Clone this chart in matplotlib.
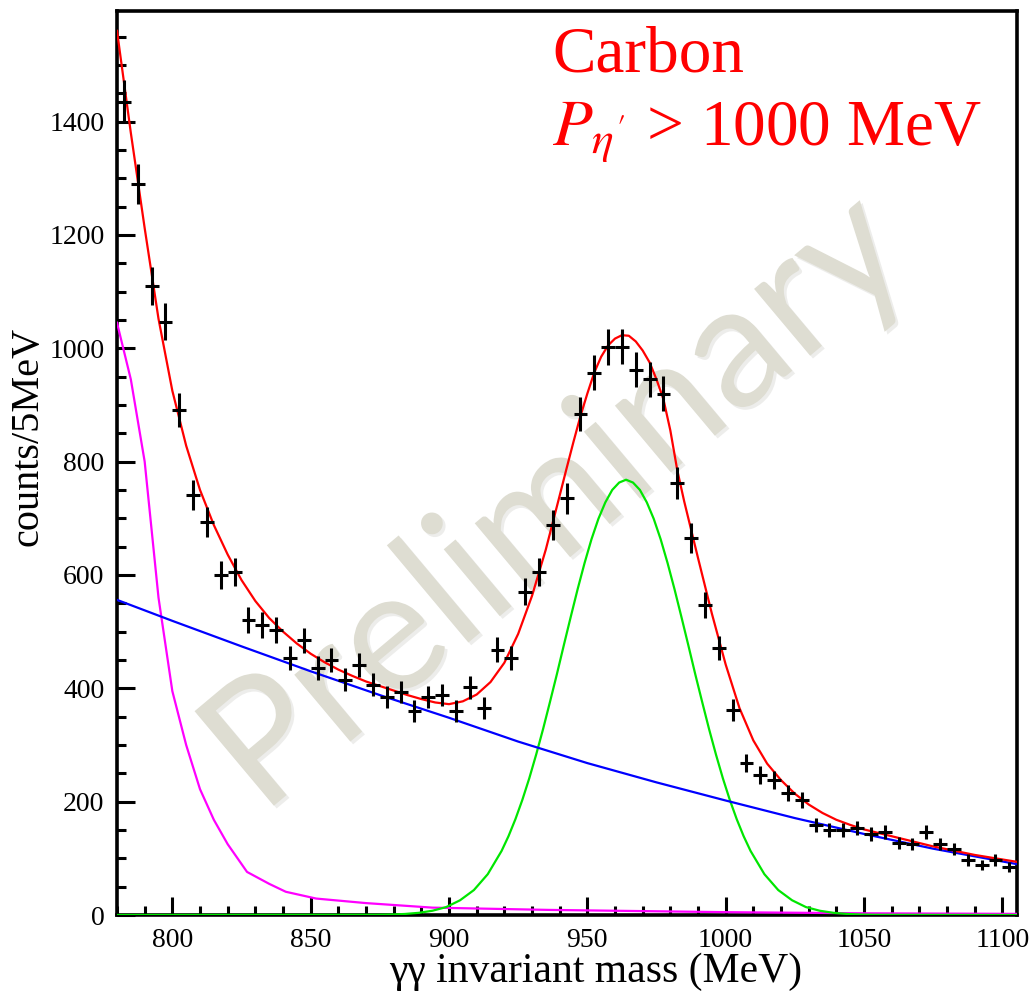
import numpy as np
import matplotlib
matplotlib.use("Agg")
import matplotlib.pyplot as plt
from matplotlib.ticker import MultipleLocator
import matplotlib.patheffects as pe

plt.rcParams['font.family'] = ['Liberation Serif', 'DejaVu Serif']
plt.rcParams['mathtext.fontset'] = 'stix'

# gamma-gamma invariant mass, 5 MeV bins (bin centres)
mass = [782.5, 787.5, 792.5, 797.5, 802.5, 807.5, 812.5, 817.5, 822.5, 827.5,
        832.5, 837.5, 842.5, 847.5, 852.5, 857.5, 862.5, 867.5, 872.5, 877.5,
        882.5, 887.5, 892.5, 897.5, 902.5, 907.5, 912.5, 917.5, 922.5, 927.5,
        932.5, 937.5, 942.5, 947.5, 952.5, 957.5, 962.5, 967.5, 972.5, 977.5,
        982.5, 987.5, 992.5, 997.5, 1002.5, 1007.5, 1012.5, 1017.5, 1022.5, 1027.5,
        1032.5, 1037.5, 1042.5, 1047.5, 1052.5, 1057.5, 1062.5, 1067.5, 1072.5, 1077.5,
        1082.5, 1087.5, 1092.5, 1097.5, 1102.5]
counts = [1435, 1290, 1110, 1047, 891, 741, 694, 600, 605, 520,
          512, 503, 453, 485, 436, 450, 415, 441, 406, 385,
          393, 360, 385, 388, 360, 402, 365, 468, 454, 570,
          605, 688, 735, 884, 957, 1002, 1003, 962, 945, 920,
          762, 665, 547, 471, 362, 268, 247, 238, 215, 203,
          159, 150, 150, 153, 143, 146, 127, 125, 147, 125,
          116, 97, 88, 97, 85]

# total fit (red)
fit_x = [780, 785, 790, 795, 800, 805, 810, 815, 820, 825, 830, 835, 840, 845,
         850, 855, 860, 865, 870, 875, 880, 885, 890, 895, 900, 905, 910, 915,
         920, 925, 930, 935, 940, 942.5, 945, 947.5, 950, 952.5, 955, 957.5,
         960, 962.5, 965, 967.5, 970, 972.5, 975, 977.5, 980, 982.5, 985, 987.5,
         990, 995, 1000, 1005, 1010, 1015, 1020, 1025, 1030, 1035, 1040, 1045,
         1050, 1055, 1060, 1065, 1070, 1075, 1080, 1085, 1090, 1095, 1100, 1105]
fit_y = [1560, 1380, 1212, 1052, 925, 828, 750, 688, 636, 591, 554, 524, 500, 479,
         461, 446, 433, 422, 412, 404, 396, 388, 381, 375, 372, 377, 389, 411,
         445, 496, 563, 645, 740, 788, 835, 880, 920, 957, 985, 1005,
         1017, 1023, 1022, 1012, 996, 975, 945, 910, 855, 785, 730, 680,
         630, 532, 442, 365, 308, 267, 238, 214, 195, 180, 168, 159,
         151, 145, 139, 133, 127, 121, 116, 111, 106, 102, 98, 94]

# eta' signal (green)
sig_x = [780, 874, 879, 884, 889, 894, 899, 904, 909, 914, 919, 921.5, 924, 926.5,
         929, 931.5, 934, 936.5, 939, 941.5, 944, 946.5, 949, 951.5, 954, 956.5,
         959, 961.5, 964, 966.5, 969, 971.5, 974, 976.5, 979, 981.5, 984, 986.5,
         989, 991.5, 994, 996.5, 999, 1001.5, 1004, 1006.5, 1009, 1014, 1019,
         1024, 1029, 1034, 1039, 1044, 1049, 1054, 1105]
sig_y = [0, 0.4, 0.8, 1.8, 3.8, 7.5, 14, 26, 44, 72, 113, 139, 169, 203,
         241, 283, 328, 376, 425, 476, 526, 575, 621, 663, 699, 728,
         750, 763, 768, 763, 750, 728, 699, 663, 621, 575, 526, 476,
         425, 376, 328, 283, 241, 203, 169, 139, 113, 72, 44,
         26, 14, 7.5, 3.8, 1.8, 0.8, 0.4, 0]

# smooth background (blue)
bkg_x = [780, 800, 825, 850, 875, 900, 925, 950, 975, 1000, 1025, 1050, 1075, 1105]
bkg_y = [556, 519, 474, 430, 388, 348, 306, 268, 234, 202, 171, 143, 117, 90]

# omega tail (magenta)
omg_x = [780, 785, 790, 795, 800, 805, 810, 815, 820, 827, 835, 841, 852, 870,
         894, 936, 1000, 1050, 1105]
omg_y = [1045, 945, 800, 560, 395, 300, 222, 168, 125, 76, 55, 41, 29, 21,
         13, 9, 5, 3, 2]

fig = plt.figure(figsize=(10.35, 9.97), dpi=100)
ax = fig.add_axes([117 / 1035, 82 / 997, 900 / 1035, 904 / 997])

ax.text(0.49, 0.455, "Preliminary", transform=ax.transAxes, rotation=40,
        ha="center", va="center", fontsize=124, family="Lato",
        color="#deddd2", zorder=0,
        path_effects=[pe.withSimplePatchShadow(offset=(2, -2), shadow_rgbFace="#b8b8b0", alpha=0.25)])

ax.plot(omg_x, omg_y, color="#ff00ff", lw=1.6, zorder=3)
ax.plot(sig_x, sig_y, color="#00e600", lw=1.6, zorder=3)
ax.plot(bkg_x, bkg_y, color="#0000ff", lw=1.6, zorder=3)
ax.plot(fit_x, fit_y, color="#ff0000", lw=1.6, zorder=4)

ax.errorbar(mass, counts, xerr=2.5, yerr=np.sqrt(counts), fmt="none",
            ecolor="black", elinewidth=2.2, capsize=0, zorder=5)

ax.set_xlim(780, 1105.3)
ax.set_ylim(0, 1595)
ax.xaxis.set_major_locator(MultipleLocator(50))
ax.xaxis.set_minor_locator(MultipleLocator(10))
ax.yaxis.set_major_locator(MultipleLocator(200))
ax.yaxis.set_minor_locator(MultipleLocator(50))
ax.tick_params(which="both", direction="in", top=False, right=False,
               width=2.2, labelsize=20, pad=9)
ax.tick_params(which="major", length=13)
ax.tick_params(which="minor", length=6.5)
for s in ax.spines.values():
    s.set_linewidth(2.6)

fig.text(596 / 1035, 1 - 972 / 997, "γγ invariant mass (MeV)", ha="center",
         va="center", fontsize=30)
fig.text(47 / 1035, 1 - 436 / 997, "counts/5MeV", ha="right", va="center",
         rotation=90, fontsize=29)

fig.text(552 / 1035, 1 - 72 / 997, "Carbon", color="red", fontsize=47,
         ha="left", va="baseline")
fig.text(552 / 1035, 1 - 145 / 997, r"$P_{\eta'}$ > 1000 MeV", color="red",
         fontsize=47, ha="left", va="baseline")

fig.savefig("out.png", dpi=100)
